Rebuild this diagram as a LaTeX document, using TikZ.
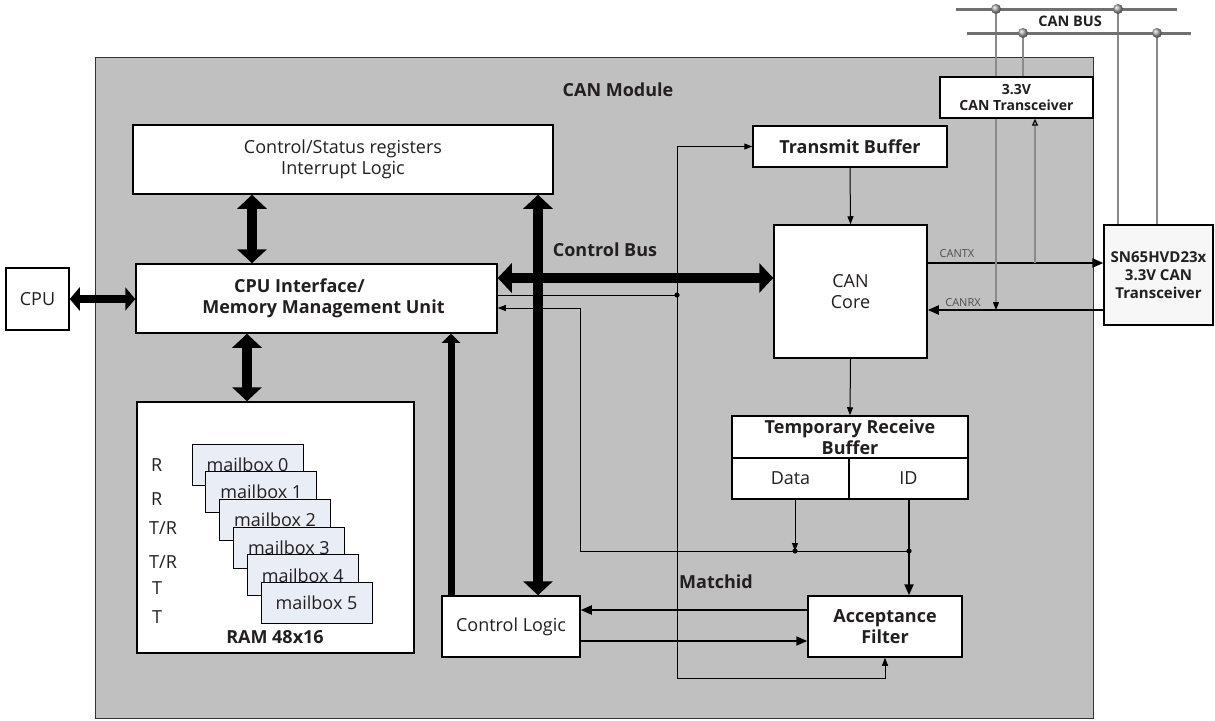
\documentclass[tikz,border=0pt]{standalone}
\usepackage{fontspec}
\setmainfont{Open Sans}
\usetikzlibrary{arrows.meta,calc}
\definecolor{modgray}{HTML}{C0C0C0}
\definecolor{mbfill}{HTML}{E9EDF6}
\definecolor{txt}{HTML}{231F20}
\definecolor{busgray}{HTML}{707070}
\definecolor{wiregray}{HTML}{8A8A8A}
\begin{document}
\begin{tikzpicture}[x=1pt,y=-1pt,
  box/.style={draw=black, line width=1.5pt, fill=white, inner sep=0pt, align=center, text=txt, font=\fontsize{18}{20.5}\selectfont},
  bbox/.style={box, font=\fontsize{18}{21}\selectfont\bfseries},
  mb/.style={draw=black, line width=0.8pt, fill=mbfill, inner sep=0pt, minimum width=111pt, minimum height=41pt, text=txt, font=\fontsize{18}{20}\selectfont},
  lbl/.style={text=txt, inner sep=0pt, font=\fontsize{18}{20}\selectfont},
  blbl/.style={text=txt, inner sep=0pt, font=\fontsize{18}{20}\selectfont\bfseries},
  fat/.style={line width=10pt, {Triangle[width=29pt,length=14pt]}-{Triangle[width=29pt,length=14pt]}},
  fatcpu/.style={line width=8pt, {Triangle[width=23pt,length=10pt]}-{Triangle[width=23pt,length=10pt]}},
  fatup/.style={line width=7pt, -{Triangle[width=18pt,length=9pt]}},
  med/.style={line width=2pt, -{Triangle[width=9pt,length=11pt]}},
  sig/.style={line width=1pt, -{Triangle[width=6pt,length=8pt]}},
  sigline/.style={line width=1pt},
  wire/.style={line width=1.2pt, draw=wiregray},
  busline/.style={line width=3pt, draw=busgray},
  tap/.style={ball color=black!35},
  small/.style={text=txt!80, inner sep=0pt, font=\fontsize{11}{12}\selectfont},
]
\fill[white] (0,0) rectangle (1215,720);
\useasboundingbox (0,0) rectangle (1215,720);

% CAN module frame
\node[draw=black!80, line width=0.8pt, fill=modgray, inner sep=0pt, minimum width=998pt, minimum height=661pt] (mod) at (594,387.5) {};
\node[blbl] (modlbl) at (618,90) {CAN Module};

% boxes
\node[box, minimum width=420pt, minimum height=69pt] (csr) at (343,159.5) {Control/Status registers\\Interrupt Logic};
\node[bbox, minimum width=361pt, minimum height=69pt] (cpuif) at (316.5,298.5) {CPU Interface/\rule{34pt}{0pt}\\\rule{14pt}{0pt}Memory Management Unit};
\node[box, minimum width=63pt, minimum height=62pt] (cpu) at (37.5,299) {CPU};
\node[box, minimum width=277pt, minimum height=251pt] (ram) at (275.5,527.5) {};
\node[blbl] (ramlbl) at (275,637) {RAM 48x16};
\foreach \k in {0,...,5}
  \node[mb] (mb\k) at ({247.5+13.8*\k},{464.5+27.7*\k}) {mailbox \k};
\node[lbl, anchor=west] (r0) at (151,465) {R};
\node[lbl, anchor=west] (r1) at (151,499) {R};
\node[lbl, anchor=west] (r2) at (149,528) {T/R};
\node[lbl, anchor=west] (r3) at (149,562) {T/R};
\node[lbl, anchor=west] (r4) at (152,588) {T};
\node[lbl, anchor=west] (r5) at (152,617) {T};

\node[box, minimum width=138pt, minimum height=61pt] (ctl) at (511,626.5) {Control Logic};
\node[bbox, minimum width=154pt, minimum height=61pt] (acc) at (885,626.5) {Acceptance\\Filter};
\node[bbox, minimum width=194pt, minimum height=41pt] (tb) at (850,146.5) {Transmit Buffer};
\node[box, minimum width=153pt, minimum height=133pt] (core) at (850.5,291.5) {CAN\\Core};
\node[bbox, minimum width=236pt, minimum height=42pt] (trb) at (850,437) {Temporary Receive\\Buffer};
\node[box, minimum width=117pt, minimum height=41pt] (data) at (790.5,478.5) {Data};
\node[box, minimum width=119pt, minimum height=41pt] (id) at (908.5,478.5) {ID};

\node[box, line width=1.3pt, minimum width=153pt, minimum height=41pt, font=\fontsize{14}{15.5}\selectfont\bfseries] (xcv) at (1016.5,97.5) {3.3V\\CAN Transceiver};
\node[box, line width=1.3pt, fill=black!3, minimum width=109pt, minimum height=100pt, font=\fontsize{15}{18}\selectfont\bfseries] (sn) at (1158.5,275) {SN65HVD23x\\3.3V CAN\\Transceiver};

% text labels
\node[blbl] (cbus) at (605,250) {Control Bus};
\node[blbl] (match) at (716,582) {Matchid};
\node[text=txt, inner sep=0pt, font=\fontsize{14.5}{16}\selectfont\bfseries] (canbus) at (1070,21) {CAN BUS};
\node[small] (ltx) at (957,254) {CANTX};
\node[small] (lrx) at (963,303) {CANRX};

% helper coordinates
\coordinate (xa) at (252,0);
\coordinate (xb) at (247,0);
\coordinate (xbus) at (538,0);
\coordinate (xup) at (451,0);
\coordinate (ybus) at (0,278);
\coordinate (ytx) at (0,263);
\coordinate (yrx) at (0,310);
\coordinate (y295) at (0,295);
\coordinate (y308) at (0,308);
\coordinate (y610) at (0,610);
\coordinate (y641) at (0,641);
\coordinate (j1) at (677,295);
\coordinate (j2) at (795,551);
\coordinate (j3) at (909,551);
\coordinate (c580) at (580,551);
\coordinate (c678) at (677,678);
\coordinate (x1035) at (1035,0);

% thin signal wiring
\draw[sigline] (cpuif.east |- y295) -- (j1);
\draw[sig] (j1) |- (tb.west);
\draw[sig] (j1) -- (c678) -| (acc.south);
\draw[sig] (data.south -| j2) -- (j2);
\draw[sig] (j3) -- (c580) |- (cpuif.east |- y308);
\draw[med] (id.south -| j3) -- (acc.north -| j3);
\fill (j1) circle (2.6pt);
\fill (j2) circle (2.6pt);
\fill (j3) circle (2.6pt);
\draw[sig] (tb.south) -- (core.north);
\draw[sig] (core.south) -- (trb.north);
\draw[med] (acc.west |- y610) -- (ctl.east |- y610);
\draw[med] (ctl.east |- y641) -- (acc.west |- y641);

% fat buses
\draw[fatcpu] (cpu.east) -- (cpuif.west |- cpu.east);
\draw[fat] (csr.south -| xa) -- (cpuif.north -| xa);
\draw[fat] (cpuif.south -| xb) -- (ram.north -| xb);
\draw[fatup] (ctl.north -| xup) -- (cpuif.south -| xup);
\draw[fat] (cpuif.east |- ybus) -- (core.west |- ybus);
\draw[fat] (csr.south -| xbus) -- (ctl.north -| xbus);

% CAN TX / RX
\draw[med] (core.east |- ytx) -- (sn.west |- ytx);
\draw[med] (sn.west |- yrx) -- (core.east |- yrx);

% CAN bus and taps
\coordinate (b1l) at (956,9);
\coordinate (b1r) at (1177,9);
\coordinate (b2l) at (967,33);
\coordinate (b2r) at (1191,33);
\coordinate (d1) at (996,9);
\coordinate (d2) at (1118,9);
\coordinate (d3) at (1023,33);
\coordinate (d4) at (1157,33);
\draw[wire] (d1) -- (xcv.north -| d1);
\draw[wire] (d3) -- (xcv.north -| d3);
\draw[wire] (d2) -- (sn.north -| d2);
\draw[wire] (d4) -- (sn.north -| d4);
\draw[wire, -{Triangle[width=6pt,length=8pt,color=black]}] (xcv.south -| d1) -- (d1 |- yrx);
\draw[wire, -{Triangle[open,width=6pt,length=7pt,color=black]}] (x1035 |- ytx) -- (xcv.south -| x1035);
\draw[busline] (b1l) -- (b1r);
\draw[busline] (b2l) -- (b2r);
\foreach \d in {d1,d2,d3,d4} \shade[tap] (\d) circle (5pt);
\end{tikzpicture}
\end{document}
